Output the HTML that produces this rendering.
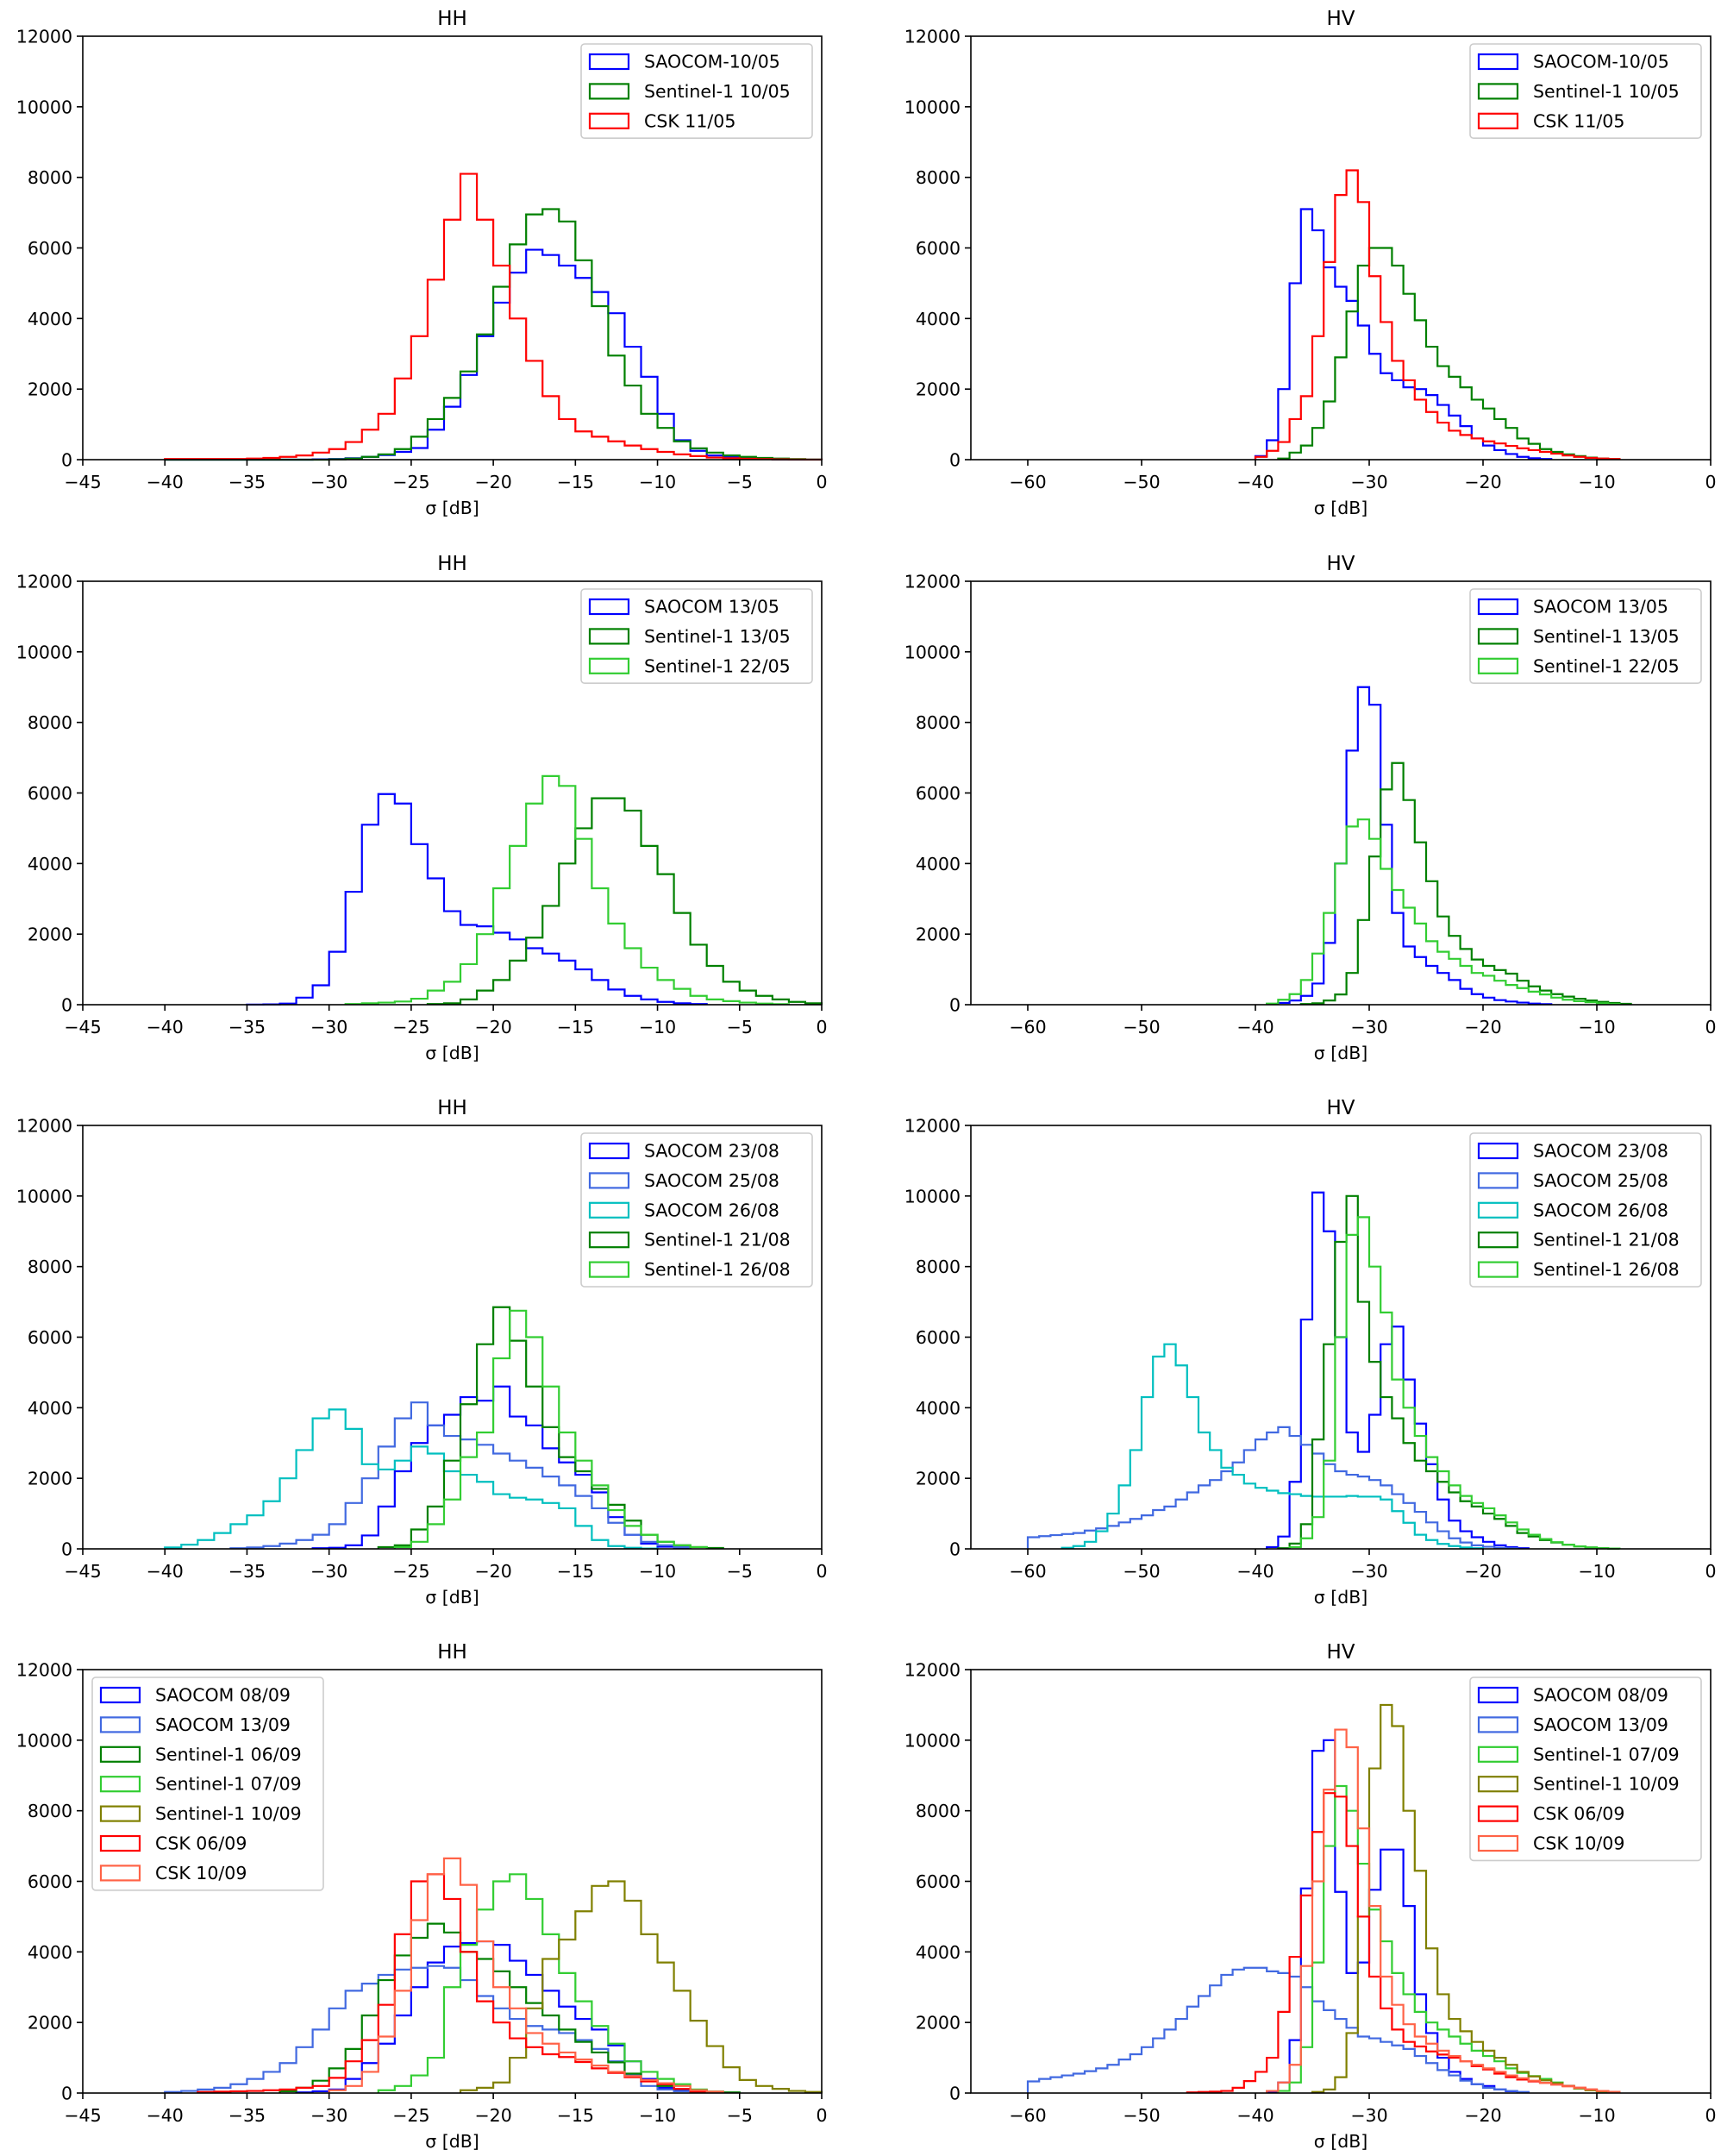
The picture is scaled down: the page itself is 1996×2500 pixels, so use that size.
<!DOCTYPE html>
<html>
<head>
<meta charset="utf-8">
<style>
  html, body { margin: 0; padding: 0; background: #ffffff; }
  svg { display: block; }
  text { font-family: "DejaVu Sans", "Liberation Sans", sans-serif; fill: #000; }
</style>
</head>
<body>
<svg id="fig" xmlns="http://www.w3.org/2000/svg" width="1996" height="2500" viewBox="0 0 1996 2500">
  <rect x="0" y="0" width="1996" height="2500" fill="#ffffff"/>
</svg>
<script>
// ---------- data: counts per 1 dB bin, starting at the given left bin edge ----------
// Row 1 HH
const hh1SaocomStart = -40;
const hh1Saocom = [0,0,0,0,0,0,0,0,0,10,20,40,80,130,220,330,850,1500,2400,3500,4450,5300,5950,5800,5500,5150,4750,4150,3200,2350,1300,550,250,120,70,40,20,10,5,2];
const hh1S1Start = -40;
const hh1S1 = [0,0,0,0,0,0,0,0,0,0,10,30,80,150,300,650,1150,1750,2500,3550,4900,6100,6950,7100,6750,5650,4350,2950,2100,1300,900,520,320,200,120,80,50,30,15,5];
const hh1CskStart = -40;
const hh1Csk = [20,20,20,20,20,30,50,80,120,200,300,500,850,1300,2300,3500,5100,6800,8100,6800,5500,4000,2800,1800,1150,800,650,520,400,300,220,150,100,60,40,25,15,10,5,2];
// Row 1 HV
const hv1SaocomStart = -40;
const hv1Saocom = [100,550,2000,5000,7100,6500,5450,4900,4500,3800,3000,2450,2250,2050,2000,1830,1550,1250,950,600,400,270,160,80,40,20];
const hv1S1Start = -38;
const hv1S1 = [30,200,400,900,1650,2900,4200,5500,6000,6000,5500,4700,3950,3200,2650,2350,2050,1700,1450,1150,900,600,450,300,220,150,100,60,30,15];
const hv1CskStart = -40;
const hv1Csk = [80,250,500,1150,1800,3500,5600,7500,8200,7300,5200,3900,2800,2250,1700,1350,1050,820,700,600,520,460,390,320,270,220,170,120,80,50,30,20];
// Row 2 HH
const hh2SaocomStart = -35;
const hh2Saocom = [5,10,30,200,550,1500,3200,5100,5970,5700,4550,3580,2650,2260,2220,2040,1850,1600,1450,1250,1000,700,430,250,150,80,40,20];
const hh2S1aStart = -24;
const hh2S1a = [20,40,150,400,700,1250,1900,2800,4000,5000,5850,5850,5500,4500,3700,2600,1700,1100,650,400,250,150,80,40];
const hh2S1bStart = -29;
const hh2S1b = [20,40,60,90,170,400,650,1150,2000,3300,4500,5700,6480,6200,4700,3300,2300,1600,1050,700,450,250,150,100,60,30,15];
// Row 2 HV
const hv2SaocomStart = -39;
const hv2Saocom = [20,50,120,250,600,1750,4000,7200,9000,8500,5100,2600,1650,1350,1100,900,700,450,300,200,130,90,60,30,15];
const hv2S1aStart = -36;
const hv2S1a = [20,40,120,290,900,2400,4200,6100,6850,5800,4600,3500,2500,1950,1580,1280,1100,980,880,680,520,400,300,230,170,120,80,50,25];
const hv2S1bStart = -39;
const hv2S1b = [30,140,300,700,1450,2600,4000,5050,5250,4700,3850,3250,2750,2300,1800,1500,1300,1100,900,820,680,560,470,370,290,200,140,100,70,40,20];
// Row 3 HH
const hh3Sa23Start = -31;
const hh3Sa23 = [20,30,100,380,1200,2200,3000,3500,3800,4300,4200,4600,3750,3500,2850,2450,2100,1600,900,400,150,60,30];
const hh3Sa25Start = -36;
const hh3Sa25 = [20,40,80,150,250,400,700,1300,2000,2900,3700,4150,3500,3200,3100,2950,2700,2500,2300,2050,1800,1500,1150,740,400,200,100,50];
const hh3Sa26Start = -40;
const hh3Sa26 = [40,120,250,450,700,950,1350,2000,2800,3700,3950,3400,2400,2250,2500,2900,2700,2200,2100,1900,1550,1450,1400,1300,1150,650,250,80,30,10];
const hh3S21Start = -27;
const hh3S21 = [50,100,550,1200,2500,4100,5800,6850,5900,4600,3450,2600,2200,1700,1250,800,400,200,100,50,25];
const hh3S26Start = -26;
const hh3S26 = [50,200,700,1400,2600,3300,5400,6750,6000,4600,3300,2500,1800,1100,650,400,200,100,50];
// Row 3 HV
const hv3Sa23Start = -39;
const hv3Sa23 = [50,350,1900,6500,10100,9000,6000,3300,2750,3800,5800,6300,4800,3550,2400,1400,800,500,330,200,100,50,20];
const hv3Sa25Start = -60;
const hv3Sa25 = [330,360,390,420,450,520,580,650,750,850,950,1100,1200,1400,1600,1800,1950,2200,2450,2800,3100,3300,3450,3200,2950,2700,2400,2200,2100,2050,1950,1800,1550,1300,1050,750,500,300,180,100,60,30,15];
const hv3Sa26Start = -57;
const hv3Sa26 = [30,80,200,500,1000,1800,2800,4300,5450,5800,5200,4300,3300,2800,2300,2100,1850,1730,1650,1580,1550,1500,1480,1480,1480,1500,1480,1480,1400,1070,740,400,250,140,80,40,20];
const hv3S21Start = -38;
const hv3S21 = [20,150,700,3100,5800,8700,10000,7000,5300,4300,3700,3000,2500,2200,1900,1600,1350,1200,1000,850,650,450,350,250,180,120,70,40,20,10];
const hv3S26Start = -37;
const hv3S26 = [50,300,900,2500,6000,8900,9400,8000,6700,4800,4000,3200,2600,2200,1800,1500,1300,1150,950,750,550,400,280,190,120,70,40,20,10];
// Row 4 HH
const hh4Sa08Start = -32;
const hh4Sa08 = [20,50,100,400,850,1400,2200,3000,3700,4150,4250,4300,4200,3750,3350,2900,2450,2100,1800,1350,900,400,150,80,40];
const hh4Sa13Start = -40;
const hh4Sa13 = [30,60,100,150,250,400,600,850,1300,1800,2400,2900,3100,3350,3500,3550,3600,3550,3200,2750,2400,2100,1900,1800,1700,1500,1250,900,500,200,100,50,20];
const hh4S06Start = -33;
const hh4S06 = [50,150,350,700,1250,2200,3200,3900,4400,4800,4550,4000,3800,3450,3000,2550,2200,1800,1450,1150,870,550,350,200,120,80,40,20];
const hh4S07Start = -27;
const hh4S07 = [80,200,500,1000,3000,4200,5200,6000,6200,5500,4500,3400,2600,1900,1400,900,600,400,250,100,40];
const hh4S10Start = -22;
const hh4S10 = [80,150,300,1000,2400,3800,4350,5150,5870,6000,5450,4500,3700,2900,2050,1330,730,370,200,120,60,30];
const hh4C06Start = -38;
const hh4C06 = [30,40,50,60,80,100,150,200,430,900,1500,2500,4500,6000,6200,5500,4000,2600,2000,1550,1300,1100,1020,880,700,570,450,330,250,120,40];
const hh4C10Start = -30;
const hh4C10 = [80,200,600,1600,2900,4900,6200,6650,5900,4300,3000,2400,1700,1400,1150,950,780,600,480,370,280,200,80,40];
// Row 4 HV
const hv4Sa08Start = -39;
const hv4Sa08 = [40,300,1500,5800,9700,10000,5700,3400,3700,5760,6900,6900,5300,2800,1700,1000,600,400,250,200,100,50,20];
const hv4Sa13Start = -60;
const hv4Sa13 = [330,400,450,500,550,620,700,800,950,1100,1300,1550,1800,2100,2450,2750,3050,3350,3500,3550,3550,3450,3400,3300,3000,2600,2350,2100,1850,1600,1550,1450,1350,1250,1050,850,650,500,350,250,150,100,60,30];
const hv4S07Start = -38;
const hv4S07 = [60,300,1300,3700,7000,8700,8000,6500,5200,4300,3400,2800,2300,2000,1800,1600,1400,1200,1050,900,700,570,480,400,300,200,130,80,40,20];
const hv4S10Start = -35;
const hv4S10 = [30,100,450,1700,5000,9200,11000,10400,8000,6300,4100,2800,2100,1750,1450,1200,1000,800,600,470,360,280,200,130,80,50,25];
const hv4C06Start = -46;
const hv4C06 = [20,30,40,60,150,340,600,1000,2300,3860,5600,7400,8500,8400,7000,5000,3300,2400,1800,1450,1320,1180,1090,1000,900,760,670,550,450,380,330,290,240,200,150,100,60,30];
const hv4C10Start = -39;
const hv4C10 = [60,300,800,3600,6000,8600,10300,9800,7500,5300,3300,2500,1950,1600,1400,1200,1050,900,800,700,600,500,420,350,290,240,190,150,100,60,30];

// ---------- axis tick labels ----------
const yTicks = [0,2000,4000,6000,8000,10000,12000];
const xTicksHH = [-45,-40,-35,-30,-25,-20,-15,-10,-5,0];
const xTicksHV = [-60,-50,-40,-30,-20,-10,0];

// ---------- colours ----------
const C_BLUE = '#0000ff', C_ROYAL = '#4169e1', C_CYAN = '#00bfbf', C_GREEN = '#008000',
      C_LIME = '#32cd32', C_OLIVE = '#808000', C_RED = '#ff0000', C_TOMATO = '#ff6347';

const panels = [
  {row:0,col:0,title:'HH',xmin:-45,ticks:xTicksHH,legendLeft:false,series:[
    {label:'SAOCOM-10/05',color:C_BLUE,start:hh1SaocomStart,vals:hh1Saocom},
    {label:'Sentinel-1 10/05',color:C_GREEN,start:hh1S1Start,vals:hh1S1},
    {label:'CSK 11/05',color:C_RED,start:hh1CskStart,vals:hh1Csk}]},
  {row:0,col:1,title:'HV',xmin:-65,ticks:xTicksHV,legendLeft:false,series:[
    {label:'SAOCOM-10/05',color:C_BLUE,start:hv1SaocomStart,vals:hv1Saocom},
    {label:'Sentinel-1 10/05',color:C_GREEN,start:hv1S1Start,vals:hv1S1},
    {label:'CSK 11/05',color:C_RED,start:hv1CskStart,vals:hv1Csk}]},
  {row:1,col:0,title:'HH',xmin:-45,ticks:xTicksHH,legendLeft:false,series:[
    {label:'SAOCOM 13/05',color:C_BLUE,start:hh2SaocomStart,vals:hh2Saocom},
    {label:'Sentinel-1 13/05',color:C_GREEN,start:hh2S1aStart,vals:hh2S1a},
    {label:'Sentinel-1 22/05',color:C_LIME,start:hh2S1bStart,vals:hh2S1b}]},
  {row:1,col:1,title:'HV',xmin:-65,ticks:xTicksHV,legendLeft:false,series:[
    {label:'SAOCOM 13/05',color:C_BLUE,start:hv2SaocomStart,vals:hv2Saocom},
    {label:'Sentinel-1 13/05',color:C_GREEN,start:hv2S1aStart,vals:hv2S1a},
    {label:'Sentinel-1 22/05',color:C_LIME,start:hv2S1bStart,vals:hv2S1b}]},
  {row:2,col:0,title:'HH',xmin:-45,ticks:xTicksHH,legendLeft:false,series:[
    {label:'SAOCOM 23/08',color:C_BLUE,start:hh3Sa23Start,vals:hh3Sa23},
    {label:'SAOCOM 25/08',color:C_ROYAL,start:hh3Sa25Start,vals:hh3Sa25},
    {label:'SAOCOM 26/08',color:C_CYAN,start:hh3Sa26Start,vals:hh3Sa26},
    {label:'Sentinel-1 21/08',color:C_GREEN,start:hh3S21Start,vals:hh3S21},
    {label:'Sentinel-1 26/08',color:C_LIME,start:hh3S26Start,vals:hh3S26}]},
  {row:2,col:1,title:'HV',xmin:-65,ticks:xTicksHV,legendLeft:false,series:[
    {label:'SAOCOM 23/08',color:C_BLUE,start:hv3Sa23Start,vals:hv3Sa23},
    {label:'SAOCOM 25/08',color:C_ROYAL,start:hv3Sa25Start,vals:hv3Sa25},
    {label:'SAOCOM 26/08',color:C_CYAN,start:hv3Sa26Start,vals:hv3Sa26},
    {label:'Sentinel-1 21/08',color:C_GREEN,start:hv3S21Start,vals:hv3S21},
    {label:'Sentinel-1 26/08',color:C_LIME,start:hv3S26Start,vals:hv3S26}]},
  {row:3,col:0,title:'HH',xmin:-45,ticks:xTicksHH,legendLeft:true,series:[
    {label:'SAOCOM 08/09',color:C_BLUE,start:hh4Sa08Start,vals:hh4Sa08},
    {label:'SAOCOM 13/09',color:C_ROYAL,start:hh4Sa13Start,vals:hh4Sa13},
    {label:'Sentinel-1 06/09',color:C_GREEN,start:hh4S06Start,vals:hh4S06},
    {label:'Sentinel-1 07/09',color:C_LIME,start:hh4S07Start,vals:hh4S07},
    {label:'Sentinel-1 10/09',color:C_OLIVE,start:hh4S10Start,vals:hh4S10},
    {label:'CSK 06/09',color:C_RED,start:hh4C06Start,vals:hh4C06},
    {label:'CSK 10/09',color:C_TOMATO,start:hh4C10Start,vals:hh4C10}]},
  {row:3,col:1,title:'HV',xmin:-65,ticks:xTicksHV,legendLeft:false,series:[
    {label:'SAOCOM 08/09',color:C_BLUE,start:hv4Sa08Start,vals:hv4Sa08},
    {label:'SAOCOM 13/09',color:C_ROYAL,start:hv4Sa13Start,vals:hv4Sa13},
    {label:'Sentinel-1 07/09',color:C_LIME,start:hv4S07Start,vals:hv4S07},
    {label:'Sentinel-1 10/09',color:C_OLIVE,start:hv4S10Start,vals:hv4S10},
    {label:'CSK 06/09',color:C_RED,start:hv4C06Start,vals:hv4C06},
    {label:'CSK 10/09',color:C_TOMATO,start:hv4C10Start,vals:hv4C10}]}
];

// ---------- layout ----------
const COLX = [[96, 953], [1126, 1984]];
const ROWY = [42, 674, 1305, 1936];
const PH = 491;
const YMAX = 12000;

const svg = document.getElementById('fig');
const NS = 'http://www.w3.org/2000/svg';
function mk(tag, parent) { const e = document.createElementNS(NS, tag); parent.appendChild(e); return e; }
function fmt(v) { return v < 0 ? '\u2212' + Math.abs(v) : String(v); }

panels.forEach(function (p, pi) {
  const L = COLX[p.col][0], R = COLX[p.col][1];
  const T = ROWY[p.row], B = T + PH;
  const xs = function (v) { return L + (v - p.xmin) / (0 - p.xmin) * (R - L); };
  const ys = function (c) { return B - c / YMAX * PH; };

  const g = mk('g', svg);
  
  

  // title
  const tt = mk('text', g);
  
  
  tt.setAttribute('x', (L + R) / 2); tt.setAttribute('y', T - 13);
  tt.setAttribute('text-anchor', 'middle'); tt.setAttribute('font-size', '23');
  tt.textContent = p.title;

  // series (step histograms)
  const sg = mk('g', g);
  
  
  p.series.forEach(function (s) {
    let d = 'M' + xs(s.start).toFixed(2) + ',' + ys(0).toFixed(2);
    for (let i = 0; i < s.vals.length; i++) {
      const x0 = xs(s.start + i), x1 = xs(s.start + i + 1), y = ys(s.vals[i]);
      d += 'L' + x0.toFixed(2) + ',' + y.toFixed(2) + 'L' + x1.toFixed(2) + ',' + y.toFixed(2);
    }
    d += 'L' + xs(s.start + s.vals.length).toFixed(2) + ',' + ys(0).toFixed(2);
    const path = mk('path', sg);
    
    
    path.setAttribute('d', d);
    path.setAttribute('fill', 'none');
    path.setAttribute('stroke', s.color);
    path.setAttribute('stroke-width', '2.2');
    path.setAttribute('stroke-linejoin', 'miter');
  });

  // frame
  const fr = mk('rect', g);
  
  
  fr.setAttribute('x', L); fr.setAttribute('y', T);
  fr.setAttribute('width', R - L); fr.setAttribute('height', PH);
  fr.setAttribute('fill', 'none'); fr.setAttribute('stroke', '#000'); fr.setAttribute('stroke-width', '1.6');

  // y ticks
  yTicks.forEach(function (v) {
    const y = ys(v);
    const tk = mk('line', g);
    
    
    tk.setAttribute('x1', L - 7); tk.setAttribute('x2', L); tk.setAttribute('y1', y); tk.setAttribute('y2', y);
    tk.setAttribute('stroke', '#000'); tk.setAttribute('stroke-width', '1.6');
    const lb = mk('text', g);
    
    
    lb.setAttribute('x', L - 12); lb.setAttribute('y', y + 7.5);
    lb.setAttribute('text-anchor', 'end'); lb.setAttribute('font-size', '20.5');
    lb.textContent = fmt(v);
  });

  // x ticks
  p.ticks.forEach(function (v) {
    const x = xs(v);
    const tk = mk('line', g);
    
    
    tk.setAttribute('x1', x); tk.setAttribute('x2', x); tk.setAttribute('y1', B); tk.setAttribute('y2', B + 7);
    tk.setAttribute('stroke', '#000'); tk.setAttribute('stroke-width', '1.6');
    const lb = mk('text', g);
    
    
    lb.setAttribute('x', x); lb.setAttribute('y', B + 33);
    lb.setAttribute('text-anchor', 'middle'); lb.setAttribute('font-size', '20.5');
    lb.textContent = fmt(v);
  });

  // x axis label
  const xl = mk('text', g);
  
  
  xl.setAttribute('x', (L + R) / 2); xl.setAttribute('y', B + 63);
  xl.setAttribute('text-anchor', 'middle'); xl.setAttribute('font-size', '20.5');
  xl.textContent = '\u03c3 [dB]';

  // legend
  const n = p.series.length;
  const LW = 268, LH = n * 34.4 + 6;
  const lx = p.legendLeft ? L + 11 : R - 11 - LW;
  const ly = T + 9;
  const lg = mk('g', g);
  
  
  const lr = mk('rect', lg);
  
  
  lr.setAttribute('x', lx); lr.setAttribute('y', ly); lr.setAttribute('width', LW); lr.setAttribute('height', LH);
  lr.setAttribute('rx', '4'); lr.setAttribute('fill', '#ffffff'); lr.setAttribute('fill-opacity', '0.8');
  lr.setAttribute('stroke', '#cccccc'); lr.setAttribute('stroke-width', '1.6');
  p.series.forEach(function (s, i) {
    const cy = ly + 20 + i * 34.4;
    const pr = mk('rect', lg);
    
    
    pr.setAttribute('x', lx + 10); pr.setAttribute('y', cy - 8);
    pr.setAttribute('width', 45); pr.setAttribute('height', 17);
    pr.setAttribute('fill', 'none'); pr.setAttribute('stroke', s.color); pr.setAttribute('stroke-width', '2.2');
    const lt = mk('text', lg);
    
    
    lt.setAttribute('x', lx + 73); lt.setAttribute('y', cy + 7.5);
    lt.setAttribute('font-size', '20.5');
    lt.textContent = s.label;
  });
});
</script>
</body>
</html>
